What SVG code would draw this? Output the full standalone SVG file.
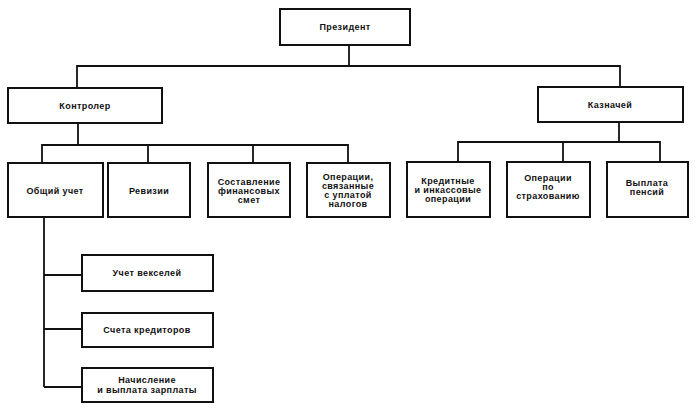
<svg xmlns="http://www.w3.org/2000/svg" width="700" height="410" viewBox="0 0 700 410">
<style>
rect{fill:#fff;stroke:#111;stroke-width:2}
text{font-family:"Liberation Sans",Arial,sans-serif;font-size:9px;font-weight:bold;fill:#111;text-anchor:middle;letter-spacing:0.4px}
#conn path{fill:none;stroke:#111;stroke-width:1.8}
</style>
<rect x="0" y="0" width="700" height="410" style="stroke:none"/>
<g id="conn">
<path d="M349 45V66M77 88V66H620V87"/>
<path d="M78 123V145M42 163V145H348V163M148 145V163M253 145V163"/>
<path d="M619 122V142M458 162V142H660V162M563 142V162"/>
<path d="M44 217V387M44 275H82M44 329H82M44 387H82"/>
</g>
<g id="president"><rect x="280" y="9" width="130" height="36"/><text x="345" y="30">Президент</text></g>
<g id="controller"><rect x="8" y="88" width="154" height="35"/><text x="85" y="109">Контролер</text></g>
<g id="treasurer"><rect x="538" y="87" width="145" height="35"/><text x="610" y="108">Казначей</text></g>
<g id="general"><rect x="8" y="163" width="95" height="54"/><text x="55" y="194">Общий учет</text></g>
<g id="audit"><rect x="108" y="163" width="82" height="54"/><text x="149" y="194">Ревизии</text></g>
<g id="budget"><rect x="208" y="163" width="82" height="54"/><text x="249" y="185">Составление</text><text x="249" y="194">финансовых</text><text x="249" y="203">смет</text></g>
<g id="tax"><rect x="307" y="163" width="83" height="54"/><text x="348" y="180">Операции,</text><text x="348" y="189">связанные</text><text x="348" y="198">с уплатой</text><text x="348" y="207">налогов</text></g>
<g id="credit"><rect x="407" y="162" width="83" height="55"/><text x="448" y="184">Кредитные</text><text x="448" y="193">и инкассовые</text><text x="448" y="202">операции</text></g>
<g id="insurance"><rect x="507" y="162" width="83" height="55"/><text x="548" y="181">Операции</text><text x="548" y="190">по</text><text x="548" y="199">страхованию</text></g>
<g id="pension"><rect x="607" y="162" width="81" height="55"/><text x="647" y="186">Выплата</text><text x="647" y="195">пенсий</text></g>
<g id="bills"><rect x="82" y="255" width="131" height="36"/><text x="147" y="276">Учет векселей</text></g>
<g id="creditors"><rect x="82" y="313" width="131" height="34"/><text x="147" y="333">Счета кредиторов</text></g>
<g id="payroll"><rect x="82" y="368" width="131" height="34"/><text x="147" y="383">Начисление</text><text x="147" y="393">и выплата зарплаты</text></g>
</svg>
